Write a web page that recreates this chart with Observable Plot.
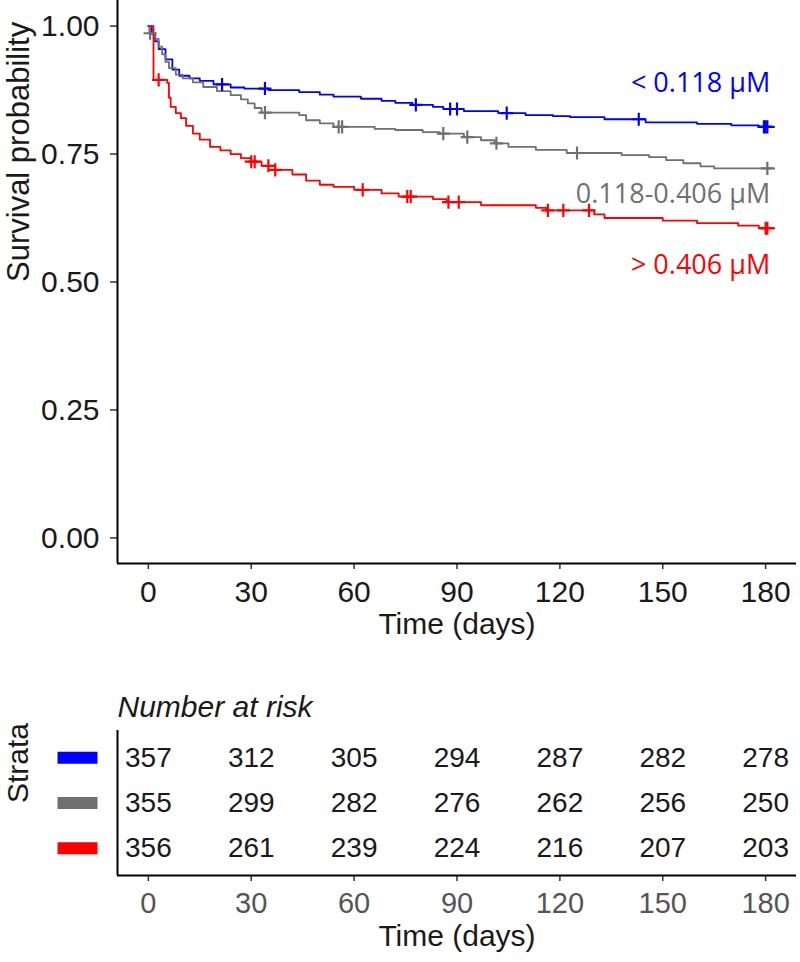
<!DOCTYPE html>
<html><head><meta charset="utf-8">
<script src="https://cdn.jsdelivr.net/npm/d3@7"></script>
<script src="https://cdn.jsdelivr.net/npm/@observablehq/plot@0.6"></script>
<style>
body{margin:0;background:#fff;}
#chart{position:relative;width:800px;height:962px;background:#fff;}
#chart svg{position:absolute;left:0;}
</style></head><body><div id="chart"></div>
<script>
// ---- data ----
const strata = ["< 0.118 μM", "0.118-0.406 μM", "> 0.406 μM"];
const colors = ["#0000ff", "#707070", "#ff0000"];
const endTime = 182.5;

const lowTime = [0, 1, 2, 3, 5, 7, 9, 12, 15, 19, 24, 28, 35, 44, 50, 54, 62, 68, 72, 77, 83, 86, 92, 102, 110, 118, 123, 133, 145, 160, 170, 178];
const lowSurv = [1.0, 0.985, 0.97, 0.955, 0.935, 0.915, 0.903, 0.898, 0.893, 0.886, 0.880, 0.878, 0.875, 0.871, 0.866, 0.862, 0.858, 0.854, 0.850, 0.846, 0.842, 0.838, 0.834, 0.830, 0.826, 0.824, 0.822, 0.818, 0.812, 0.809, 0.806, 0.803];
const lowCensor = [21.5, 34, 78, 88, 90, 104.5, 143, 179.5, 180, 180.5];

const midTime = [0, 0.3, 2, 3, 4, 5, 6, 8, 10, 13, 16, 20, 24, 27, 29, 31, 33, 44, 46, 50, 54, 66, 72, 80, 85, 92, 97, 101, 105, 113, 122, 138, 146, 151, 156, 161, 165];
const midSurv = [1.0, 0.986, 0.975, 0.96, 0.945, 0.93, 0.918, 0.905, 0.898, 0.89, 0.881, 0.873, 0.865, 0.857, 0.849, 0.84, 0.831, 0.826, 0.816, 0.81, 0.803, 0.799, 0.797, 0.793, 0.79, 0.783, 0.777, 0.771, 0.764, 0.758, 0.752, 0.748, 0.744, 0.738, 0.732, 0.726, 0.722];
const midCensor = [0.5, 34, 55.5, 56.5, 86, 93, 101.5, 125, 180.5];

const highTime = [0, 1.5, 5.5, 6, 6.5, 8, 9.5, 11, 13, 15, 18, 21, 24, 27, 30, 33, 37, 42, 46, 50, 54, 60, 68, 73, 83, 87, 97, 113, 116, 130, 133, 150, 160, 172, 178];
const highSurv = [1.0, 0.895, 0.889, 0.86, 0.842, 0.83, 0.82, 0.805, 0.79, 0.778, 0.764, 0.757, 0.75, 0.742, 0.735, 0.727, 0.719, 0.71, 0.698, 0.69, 0.686, 0.68, 0.673, 0.667, 0.662, 0.656, 0.65, 0.645, 0.64, 0.632, 0.625, 0.62, 0.615, 0.61, 0.605];
const highCensor = [3, 30, 31, 35, 37, 62.5, 75.5, 76.5, 87.5, 90.5, 116.5, 121, 128.5, 180, 180.5];

const riskTimes = [0, 30, 60, 90, 120, 150, 180];
const riskLow = [357, 312, 305, 294, 287, 282, 278];
const riskMid = [355, 299, 282, 276, 262, 256, 250];
const riskHigh = [356, 261, 239, 224, 216, 207, 203];

const xTitle = "Time (days)";
const yTitle = "Survival probability";
const yTicks = [0, 0.25, 0.5, 0.75, 1];

// ---- build tables ----
const series = [
  {name: strata[0], time: lowTime, surv: lowSurv, censor: lowCensor, risk: riskLow},
  {name: strata[1], time: midTime, surv: midSurv, censor: midCensor, risk: riskMid},
  {name: strata[2], time: highTime, surv: highSurv, censor: highCensor, risk: riskHigh}
];
function survAt(s, t) { let v = s.surv[0]; s.time.forEach((ti, i) => { if (ti <= t) v = s.surv[i]; }); return v; }
const curves = series.flatMap(s => [
  ...s.time.map((t, i) => ({strata: s.name, t, s: s.surv[i]})),
  {strata: s.name, t: endTime, s: s.surv[s.surv.length - 1]}
]);
const censors = series.flatMap(s => s.censor.map(t => ({strata: s.name, t, s: survAt(s, t)})));
const ends = series.map(s => ({strata: s.name, t: endTime, s: s.surv[s.surv.length - 1]}));
const risk = series.flatMap((s, k) => s.risk.map((n, i) => ({strata: s.name, row: k + 1, t: riskTimes[i], n})));

const xDomain = [-9, 189];
const yDomain = [-0.05, 1.05];
const color = {domain: strata, range: colors};
const font = "'Liberation Sans', Arial, sans-serif";
const labelDy = [-44, 26, 37];

const main = Plot.plot({
  width: 800, height: 660,
  marginTop: 0, marginBottom: 97, marginLeft: 117, marginRight: 4,
  style: {fontFamily: font, fontSize: "30px", color: "#1a1a1a", background: "transparent"},
  x: {domain: xDomain},
  y: {domain: yDomain},
  color,
  marks: [
    Plot.axisX({ticks: riskTimes, tickSize: 6, tickPadding: 11, label: null, stroke: "#333", fill: "#1a1a1a", strokeWidth: 1.5}),
    Plot.axisY({ticks: yTicks, tickFormat: d3.format(".2f"), tickSize: 7, tickPadding: 11, label: null, stroke: "#333", fill: "#1a1a1a", strokeWidth: 1.5}),
    Plot.ruleX([xDomain[0]], {stroke: "#000", strokeWidth: 2}),
    Plot.ruleY([yDomain[0]], {stroke: "#000", strokeWidth: 2}),
    Plot.line(curves, {x: "t", y: "s", z: "strata", stroke: "strata", curve: "step-after", strokeWidth: 1.8}),
    Plot.dot(censors, {x: "t", y: "s", stroke: "strata", symbol: "plus", r: 4.3, strokeWidth: 2.2}),
    ...ends.map((e, i) => Plot.text([e], {x: "t", y: "s", text: "strata", fill: "strata", textAnchor: "end", dx: -4, dy: labelDy[i], fontFamily: "'Open Sans', sans-serif", fontSize: 27})),
    Plot.text([yTitle], {frameAnchor: "left", rotate: -90, dx: -98, fontSize: 31}),
    Plot.text([xTitle], {frameAnchor: "bottom", dy: 70, fontSize: 30})
  ]
});
main.style.top = "0px";

const swatch = {draw(ctx) { ctx.rect(-20, -6, 40, 12); }};
const table = Plot.plot({
  width: 800, height: 302,
  marginTop: 70, marginBottom: 87, marginLeft: 117, marginRight: 4,
  style: {fontFamily: font, fontSize: "29px", color: "#1a1a1a", background: "transparent"},
  x: {domain: xDomain},
  y: {domain: [0.4, 3.6], reverse: true, axis: null},
  color,
  marks: [
    Plot.axisX({ticks: riskTimes, tickSize: 6, tickPadding: 11, label: null, stroke: "#333", fill: "#555", strokeWidth: 1.5}),
    Plot.ruleX([xDomain[0]], {stroke: "#000", strokeWidth: 2}),
    Plot.ruleY([3.6], {stroke: "#000", strokeWidth: 2}),
    Plot.text(risk, {x: "t", y: "row", text: "n", fill: "#1a1a1a", fontSize: 28}),
    Plot.dot(series.map((s, k) => ({strata: s.name, row: k + 1})), {y: "row", frameAnchor: "left", dx: -40, symbol: swatch, fill: "strata", r: 5}),
    Plot.text(["Number at risk"], {frameAnchor: "top-left", dy: -35, textAnchor: "start", fontStyle: "italic", fontSize: 30}),
    Plot.text(["Strata"], {frameAnchor: "left", rotate: -90, dx: -99, fontSize: 30}),
    Plot.text([xTitle], {frameAnchor: "bottom", dy: 70, fontSize: 30})
  ]
});
table.style.top = "660px";

document.getElementById("chart").append(main, table);
</script></body></html>
